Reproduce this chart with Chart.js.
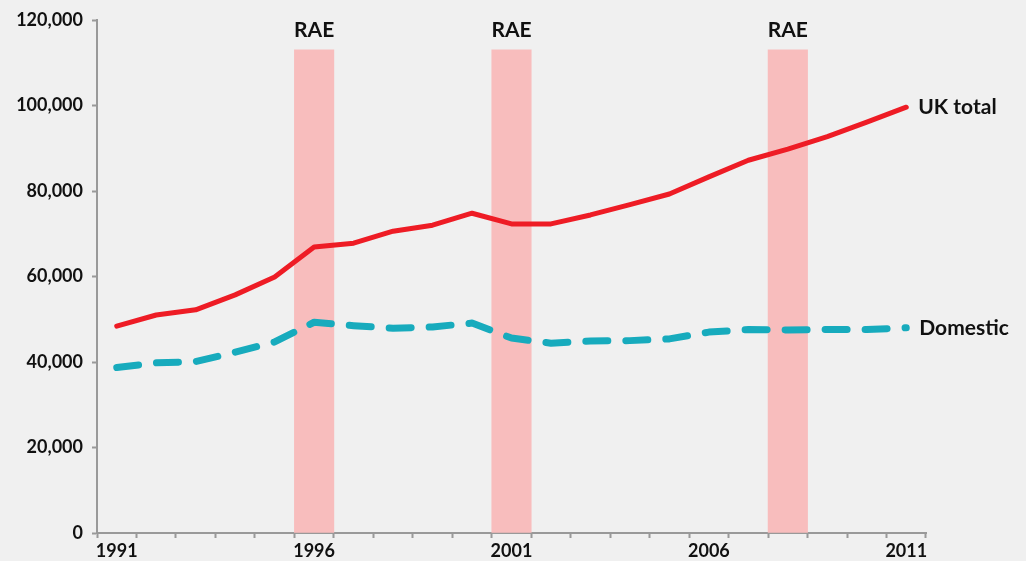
<!DOCTYPE html>
<html>
<head>
<meta charset="utf-8">
<script src="https://cdn.jsdelivr.net/npm/chart.js@4"></script>
<style>
  html, body { margin: 0; padding: 0; background: #f0f0f0; }
  #wrap { width: 1026px; height: 561px; position: relative; }
</style>
</head>
<body>
<div id="wrap"><canvas id="c" width="1026" height="561"></canvas></div>
<script>
const years = ['1991','1992','1993','1994','1995','1996','1997','1998','1999','2000','2001','2002','2003','2004','2005','2006','2007','2008','2009','2010','2011'];
const ukTotal = [48400, 51000, 52200, 55700, 59900, 66900, 67800, 70600, 72000, 74800, 72300, 72300, 74400, 76800, 79300, 83300, 87200, 89800, 92700, 96100, 99600];
const domestic = [38700, 39800, 40100, 42300, 44700, 49300, 48500, 47900, 48200, 49100, 45600, 44400, 44900, 45000, 45400, 47000, 47600, 47500, 47600, 47600, 48000];
const raeYears = ['1996', '2001', '2008'];
const raeHeight = 113000;
const raeBands = years.map(y => raeYears.includes(y) ? raeHeight : null);
const yTicks = [0, 20000, 40000, 60000, 80000, 100000, 120000];
const labelEvery = 5;

const FONT = 'Lato, "Open Sans", sans-serif';
const TEXT = '#111111';

const labelPlugin = {
  id: 'labels',
  afterDatasetsDraw(chart) {
    const ctx = chart.ctx;
    ctx.save();
    ctx.font = 'bold 21px ' + FONT;
    ctx.fillStyle = TEXT;
    // RAE labels
    const barMeta = chart.getDatasetMeta(0);
    ctx.textAlign = 'center';
    ctx.textBaseline = 'middle';
    barMeta.data.forEach((el, i) => {
      if (raeBands[i] != null) {
        ctx.fillText('RAE', el.x, el.y - 20);
      }
    });
    // series end labels
    ctx.textAlign = 'left';
    [[1, 'UK total', 12], [2, 'Domestic', 13]].forEach(([idx, txt, dx]) => {
      const m = chart.getDatasetMeta(idx);
      const p = m.data[m.data.length - 1];
      ctx.fillText(txt, p.x + dx, p.y);
    });
    ctx.restore();
  }
};

new Chart(document.getElementById('c'), {
  type: 'bar',
  data: {
    labels: years,
    datasets: [
      {
        type: 'bar',
        label: 'RAE',
        data: raeBands,
        backgroundColor: '#f8bdbd',
        barPercentage: 1,
        categoryPercentage: 1,
        order: 3
      },
      {
        type: 'line',
        label: 'UK total',
        data: ukTotal,
        borderColor: '#ee1c25',
        borderWidth: 5,
        pointRadius: 0,
        tension: 0,
        fill: false,
        borderCapStyle: 'round',
        borderJoinStyle: 'round',
        order: 1
      },
      {
        type: 'line',
        label: 'Domestic',
        data: domestic,
        borderColor: '#17abbd',
        borderWidth: 7,
        borderDash: [22, 18],
        borderCapStyle: 'round',
        borderJoinStyle: 'round',
        pointRadius: 0,
        tension: 0,
        fill: false,
        order: 2
      }
    ]
  },
  options: {
    responsive: false,
    animation: false,
    layout: { padding: { top: 20, right: 100, left: 0, bottom: 0 } },
    plugins: {
      legend: { display: false },
      tooltip: { enabled: false }
    },
    scales: {
      x: {
        type: 'category',
        offset: true,
        grid: {
          offset: true,
          drawOnChartArea: false,
          drawTicks: true,
          tickLength: 5,
          tickWidth: 2,
          tickColor: '#999999'
        },
        border: { display: true, color: '#999999', width: 2 },
        ticks: {
          autoSkip: false,
          maxRotation: 0,
          padding: 2,
          color: TEXT,
          font: { family: FONT, size: 18, weight: 'bold' },
          callback: function(v, i) { return i % labelEvery === 0 ? years[i] : ''; }
        },
        afterFit(scale) { scale.height = 28; }
      },
      y: {
        min: 0,
        max: 120000,
        afterBuildTicks(scale) { scale.ticks = yTicks.map(v => ({ value: v })); },
        grid: {
          drawOnChartArea: false,
          drawTicks: true,
          tickLength: 5,
          tickWidth: 2,
          tickColor: '#999999'
        },
        border: { display: true, color: '#999999', width: 2 },
        ticks: {
          padding: 9,
          color: TEXT,
          font: { family: FONT, size: 18, weight: 'bold' },
          callback: v => v.toLocaleString('en-US')
        },
        afterFit(scale) { scale.width = 97; }
      }
    }
  },
  plugins: [labelPlugin]
});
</script>
</body>
</html>
